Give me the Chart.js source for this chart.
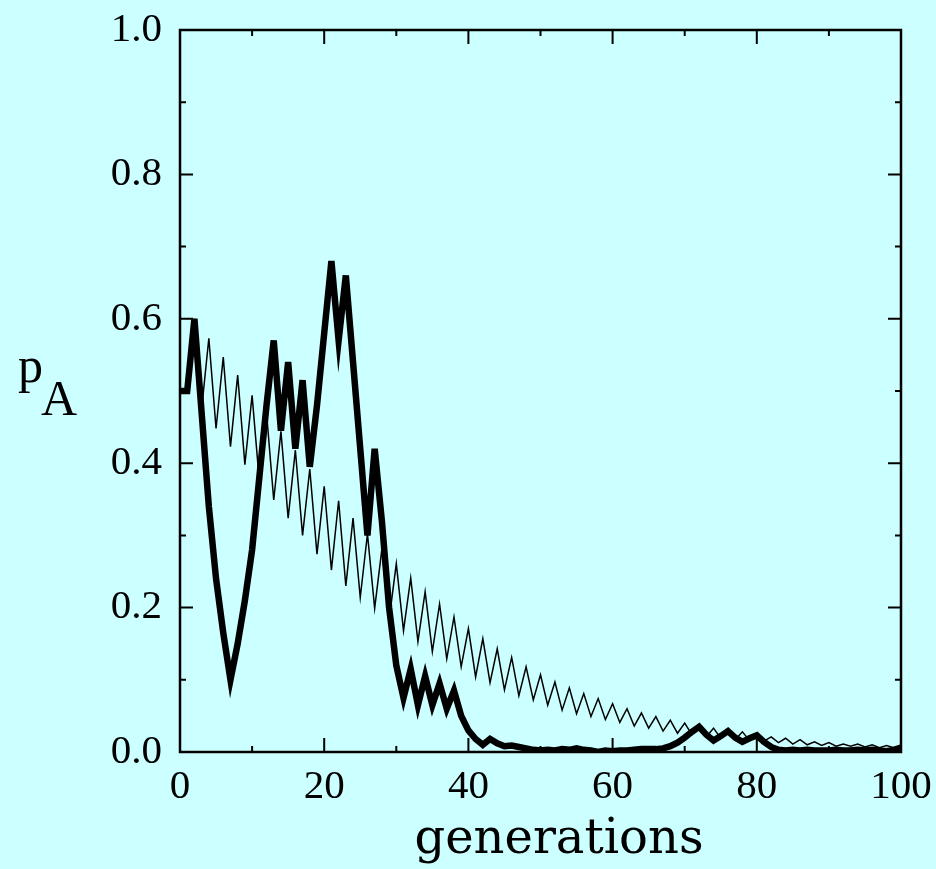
<!DOCTYPE html>
<html>
<head>
<meta charset="utf-8">
<script src="https://cdn.jsdelivr.net/npm/chart.js@4.4.1/dist/chart.umd.min.js"></script>
<style>
  body { margin: 0; background: #ccffff; }
  #wrap { width: 936px; height: 869px; position: relative; }
</style>
</head>
<body>
<div id="wrap"><canvas id="plot"></canvas></div>
<script>
// generation index 0..100
var generations = [];
for (var g = 0; g <= 100; g++) generations.push(g);

// thick curve
var thickValues = [
  0.50, 0.50, 0.60, 0.47, 0.34, 0.24, 0.165, 0.10, 0.15, 0.21,
  0.28, 0.38, 0.48, 0.57, 0.445, 0.54, 0.42, 0.515, 0.395, 0.48,
  0.58, 0.68, 0.57, 0.66, 0.54, 0.42, 0.30, 0.42, 0.32, 0.20,
  0.12, 0.075, 0.115, 0.065, 0.105, 0.065, 0.095, 0.06, 0.085, 0.05,
  0.03, 0.018, 0.01, 0.018, 0.012, 0.008, 0.009, 0.007, 0.005, 0.003,
  0.002, 0.003, 0.002, 0.004, 0.003, 0.005, 0.003, 0.002, 0.0, 0.002,
  0.001, 0.002, 0.002, 0.003, 0.004, 0.004, 0.004, 0.005, 0.008, 0.013,
  0.02, 0.028, 0.035, 0.024, 0.016, 0.022, 0.029, 0.02, 0.014, 0.019,
  0.023, 0.014, 0.007, 0.003, 0.002, 0.003, 0.002, 0.003, 0.002, 0.002,
  0.002, 0.003, 0.002, 0.002, 0.003, 0.002, 0.003, 0.002, 0.001, 0.003,
  0.006
];

// thin oscillating curve
var thinValues = [
  0.50, 0.50, 0.60, 0.475, 0.573, 0.448, 0.547, 0.423, 0.522, 0.398,
  0.494, 0.375, 0.47, 0.349, 0.444, 0.324, 0.418, 0.300, 0.392, 0.274,
  0.368, 0.252, 0.348, 0.230, 0.324, 0.214, 0.302, 0.199, 0.281, 0.183,
  0.261, 0.168, 0.241, 0.153, 0.222, 0.139, 0.205, 0.129, 0.187, 0.118,
  0.171, 0.104, 0.157, 0.096, 0.143, 0.086, 0.131, 0.078, 0.118, 0.072,
  0.107, 0.065, 0.097, 0.058, 0.089, 0.053, 0.081, 0.049, 0.074, 0.045,
  0.067, 0.041, 0.060, 0.036, 0.054, 0.033, 0.049, 0.029, 0.044, 0.026,
  0.040, 0.024, 0.037, 0.021, 0.033, 0.019, 0.030, 0.017, 0.028, 0.016,
  0.024, 0.015, 0.021, 0.013, 0.019, 0.011, 0.017, 0.010, 0.014, 0.009,
  0.013, 0.008, 0.011, 0.008, 0.011, 0.007, 0.010, 0.006, 0.009, 0.006,
  0.008
];

var xTicksMajor = [0, 20, 40, 60, 80, 100];
var yTicksMajor = ['0.0', '0.2', '0.4', '0.6', '0.8', '1.0'];

function toPoints(vals) {
  return vals.map(function (v, i) { return { x: generations[i], y: v }; });
}

// frame, inward ticks on all four sides, axis titles
var framePlugin = {
  id: 'frame',
  beforeDraw: function (chart) {
    var c = chart.ctx;
    c.save();
    c.fillStyle = '#ccffff';
    c.fillRect(0, 0, chart.width, chart.height);
    c.restore();
  },
  afterDatasetsDraw: function (chart) {
    var c = chart.ctx, a = chart.chartArea;
    var xs = chart.scales.x, ys = chart.scales.y;
    c.save();
    c.strokeStyle = '#000';
    c.lineWidth = 2.5;
    c.strokeRect(a.left, a.top, a.right - a.left, a.bottom - a.top);
    c.lineWidth = 2;
    c.beginPath();
    xs.ticks.forEach(function (t) {
      var px = xs.getPixelForValue(t.value);
      var len = xTicksMajor.indexOf(Math.round(t.value)) >= 0 ? 14 : 6;
      c.moveTo(px, a.bottom); c.lineTo(px, a.bottom - len);
      c.moveTo(px, a.top); c.lineTo(px, a.top + len);
    });
    ys.ticks.forEach(function (t) {
      var py = ys.getPixelForValue(t.value);
      var len = Math.round(t.value * 10) % 2 === 0 ? 13 : 6;
      c.moveTo(a.left, py); c.lineTo(a.left + len, py);
      c.moveTo(a.right, py); c.lineTo(a.right - len, py);
    });
    c.stroke();

    c.fillStyle = '#000';
    c.textBaseline = 'alphabetic';
    c.textAlign = 'left';
    c.font = '50px "Liberation Serif"';
    c.fillText('p', 18, 382);
    c.fillText('A', 41, 415);

    c.textAlign = 'center';
    c.font = '48px "DejaVu Serif"';
    c.fillText('generations', 559, 853);
    c.restore();
  }
};

var tickFont = { family: "'Liberation Serif', serif", size: 41 };

new Chart(document.getElementById('plot'), {
  type: 'line',
  data: {
    datasets: [
      {
        label: 'thick',
        data: toPoints(thickValues),
        borderColor: '#000',
        borderWidth: 6.5,
        borderJoinStyle: 'miter',
        pointRadius: 0,
        tension: 0,
        fill: false
      },
      {
        label: 'thin',
        data: toPoints(thinValues),
        borderColor: '#000',
        borderWidth: 1.5,
        borderJoinStyle: 'miter',
        pointRadius: 0,
        tension: 0,
        fill: false
      }
    ]
  },
  options: {
    responsive: true,
    maintainAspectRatio: false,
    animation: false,
    layout: { padding: { top: 30, right: 35, left: 0, bottom: 0 } },
    plugins: { legend: { display: false }, tooltip: { enabled: false } },
    scales: {
      x: {
        type: 'linear',
        min: 0,
        max: 100,
        grid: { display: false },
        border: { display: false },
        ticks: {
          stepSize: 10,
          autoSkip: false,
          maxRotation: 0,
          padding: 3,
          color: '#000',
          font: tickFont,
          callback: function (v) {
            return xTicksMajor.indexOf(Math.round(v)) >= 0 ? String(Math.round(v)) : '';
          }
        },
        afterFit: function (s) {
          s.height = 117;
          s.paddingLeft = 0;
          s.paddingRight = 0;
        }
      },
      y: {
        min: 0,
        max: 1,
        grid: { display: false },
        border: { display: false },
        ticks: {
          stepSize: 0.1,
          autoSkip: false,
          padding: 10,
          color: '#000',
          font: tickFont,
          callback: function (v) {
            var k = Math.round(v * 10);
            return k % 2 === 0 ? yTicksMajor[k / 2] : '';
          }
        },
        afterFit: function (s) {
          s.width = 180;
          s.paddingTop = 0;
          s.paddingBottom = 0;
        }
      }
    }
  },
  plugins: [framePlugin]
});
</script>
</body>
</html>
